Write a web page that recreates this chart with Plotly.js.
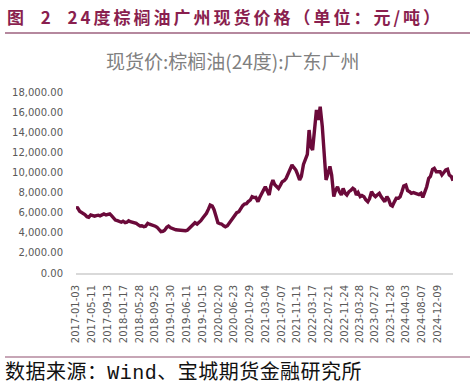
<!DOCTYPE html>
<html>
<head>
<meta charset="utf-8">
<script src="https://cdn.plot.ly/plotly-3.0.1.min.js"></script>
<style>
html,body{margin:0;padding:0;background:#fff;}
#chart{width:475px;height:388px;}
</style>
</head>
<body>
<div id="chart"></div>
<script>
// ---- data ----
const dates = [
"2017-01-03","2017-01-16","2017-02-01","2017-02-15","2017-03-01","2017-03-15","2017-04-01","2017-04-15","2017-05-01","2017-05-15","2017-06-01","2017-06-15","2017-07-01","2017-07-15","2017-08-01","2017-08-15","2017-09-01","2017-09-15","2017-10-01","2017-10-15","2017-11-01","2017-11-15","2017-12-01","2017-12-15",
"2018-01-01","2018-01-15","2018-02-01","2018-02-15","2018-03-01","2018-03-15","2018-04-01","2018-04-15","2018-05-01","2018-05-15","2018-06-01","2018-06-15","2018-07-01","2018-07-15","2018-08-01","2018-08-15","2018-09-01","2018-09-15","2018-10-01","2018-10-15","2018-11-01","2018-11-15","2018-12-01","2018-12-15",
"2019-01-01","2019-01-15","2019-02-01","2019-02-15","2019-03-01","2019-03-15","2019-04-01","2019-04-15","2019-05-01","2019-05-15","2019-06-01","2019-06-15","2019-07-01","2019-07-15","2019-08-01","2019-08-15","2019-09-01","2019-09-15","2019-10-01","2019-10-15","2019-11-01","2019-11-15","2019-12-01","2019-12-15",
"2020-01-01","2020-01-15","2020-02-01","2020-02-15","2020-03-01","2020-03-15","2020-04-01","2020-04-15","2020-05-01","2020-05-15","2020-06-01","2020-06-15","2020-07-01","2020-07-15","2020-08-01","2020-08-15","2020-09-01","2020-09-15","2020-10-01","2020-10-15","2020-11-01","2020-11-15","2020-12-01","2020-12-15",
"2021-01-01","2021-01-15","2021-02-01","2021-02-15","2021-03-01","2021-03-15","2021-04-01","2021-04-15","2021-05-01","2021-05-15","2021-06-01","2021-06-15","2021-07-01","2021-07-15","2021-08-01","2021-08-15","2021-09-01","2021-09-15","2021-10-01","2021-10-15","2021-11-01","2021-11-15","2021-12-01","2021-12-15",
"2022-01-01","2022-01-15","2022-02-01","2022-02-15","2022-03-01","2022-03-15","2022-04-01","2022-04-15","2022-05-01","2022-05-15","2022-06-01","2022-06-15","2022-07-01","2022-07-15","2022-08-01","2022-08-15","2022-09-01","2022-09-15","2022-10-01","2022-10-15","2022-11-01","2022-11-15","2022-12-01","2022-12-15",
"2023-01-01","2023-01-15","2023-02-01","2023-02-15","2023-03-01","2023-03-15","2023-04-01","2023-04-15","2023-05-01","2023-05-15","2023-06-01","2023-06-15","2023-07-01","2023-07-15","2023-08-01","2023-08-15","2023-09-01","2023-09-15","2023-10-01","2023-10-15","2023-11-01","2023-11-15","2023-12-01","2023-12-15",
"2024-01-01","2024-01-15","2024-02-01","2024-02-15","2024-03-01","2024-03-15","2024-04-01","2024-04-15","2024-05-01","2024-05-15","2024-06-01","2024-06-15","2024-07-01","2024-07-15","2024-08-01","2024-08-15","2024-09-01","2024-09-15","2024-10-01","2024-10-15","2024-11-01","2024-11-15","2024-12-01","2024-12-15",
"2025-01-01","2025-01-15","2025-02-01","2025-02-15","2025-03-01","2025-03-15","2025-04-01","2025-04-14"
];
const prices = [
6500,6480,6150,6050,5900,5820,5600,5540,5780,5700,5650,5700,5750,5680,5780,5870,5770,5820,5880,5700,5450,5270,5200,5100,
5050,5150,5000,5050,5200,5100,5050,5000,4950,4800,4680,4700,4600,4650,4940,4850,4800,4770,4650,4550,4250,4110,4150,4250,
4550,4670,4500,4420,4350,4300,4280,4250,4300,4230,4210,4250,4450,4600,4900,5000,4870,5000,5200,5440,5700,5940,6350,6750,
6650,6300,5600,5000,4900,4870,4700,4600,4700,4940,5200,5500,5700,6000,6100,6430,6700,6860,6900,7100,7260,7590,7500,7530,
7090,7500,8000,8250,8580,8200,7760,8700,9250,8800,8580,8400,8750,9080,9200,9420,9900,10400,10740,10500,10240,9800,9250,9600,
10800,11240,11800,14220,12560,12230,14500,16210,15220,16540,14550,12000,9250,9800,10600,9750,7600,8200,8580,8100,7760,8400,7930,7760,
8090,8200,8420,8300,7760,8000,7590,7700,7590,7300,7090,7400,8090,7800,7590,7760,7930,7600,7260,7090,7590,7300,6760,6660,
7100,7430,7430,7590,8100,8650,8750,8200,8090,7930,8000,7930,7930,7800,7930,7530,8090,8580,9420,9600,10310,10410,10070,10070,
10070,9750,10000,10240,10310,9750,9580,9180
];
const tickDates = ["2017-01-03","2017-05-11","2017-09-13","2018-01-17","2018-05-28","2018-09-25","2019-01-30","2019-06-11","2019-10-15","2020-02-20","2020-06-23","2020-10-29","2021-03-04","2021-07-07","2021-11-11","2022-03-17","2022-07-21","2022-11-24","2023-03-28","2023-07-27","2023-11-28","2024-04-03","2024-08-07","2024-12-09"];
const yTicks = [0,2000,4000,6000,8000,10000,12000,14000,16000,18000];
const seriesName = "现货价:棕榈油(24度):广东广州";
const headerText = "图&nbsp; 2&nbsp; 24度棕榈油广州现货价格（单位：元/吨）";
const footerText = "数据来源：Wind、宝城期货金融研究所";

// ---- layout helpers (pixel -> paper) ----
const PL = 76, PR = 453, PT = 92, PB = 273;
const px = x => (x - PL) / (PR - PL);
const py = y => (PB - y) / (PB - PT);

const trace = {
  x: dates, y: prices, type: "scatter", mode: "lines",
  line: {color: "#6b0a3a", width: 3.4},
  name: seriesName, hoverinfo: "skip"
};

const layout = {
  width: 475, height: 388,
  margin: {l: PL, r: 475 - PR, t: PT, b: 388 - PB, pad: 0},
  paper_bgcolor: "#ffffff", plot_bgcolor: "#ffffff",
  showlegend: false,
  title: {
    text: seriesName,
    x: 0.49, xref: "container", xanchor: "center",
    y: 1 - 62 / 388, yref: "container", yanchor: "middle",
    font: {family: "Noto Sans CJK SC", size: 19, color: "#808080"}
  },
  xaxis: {
    type: "date",
    range: [dates[0], dates[dates.length - 1]],
    tickmode: "array", tickvals: tickDates, ticktext: tickDates,
    tickangle: -90,
    tickfont: {family: "DejaVu Sans", size: 10, color: "#595959"},
    ticks: "", ticklabelstandoff: 6,
    showgrid: false, zeroline: false,
    showline: true, linecolor: "#d9d9d9", linewidth: 2
  },
  yaxis: {
    range: [0, 18000],
    tickmode: "array", tickvals: yTicks,
    tickformat: ",.2f",
    tickfont: {family: "DejaVu Sans", size: 10, color: "#595959"},
    ticks: "", ticklabelstandoff: 12,
    showgrid: false, zeroline: false, showline: false
  },
  shapes: [
    {type: "line", xref: "paper", yref: "paper", x0: px(5), x1: px(470), y0: py(33), y1: py(33),
     line: {color: "#b5889e", width: 2}},
    {type: "line", xref: "paper", yref: "paper", x0: px(5), x1: px(470), y0: py(357), y1: py(357),
     line: {color: "#b5889e", width: 1.5}}
  ],
  annotations: [
    {text: "<b>" + headerText + "</b>", xref: "paper", yref: "paper",
     x: px(6), y: py(16), xanchor: "left", yanchor: "middle", showarrow: false,
     font: {family: "Noto Sans CJK SC", size: 17, color: "#8a1f4f"}},
    {text: footerText, xref: "paper", yref: "paper",
     x: px(4), y: py(373), xanchor: "left", yanchor: "middle", showarrow: false,
     font: {family: "Liberation Mono, Noto Sans CJK SC", size: 20, color: "#111111"}}
  ]
};

function fitText(t, left, targetW) {
  const r0 = t.getBoundingClientRect();
  const n = (t.textContent || "").length;
  const ls = Math.max(0, (targetW - r0.width) / n);
  t.style.letterSpacing = ls + "px";
  const r1 = t.getBoundingClientRect();
  const dx = left - r1.left;
  const tr = t.getAttribute("transform") || "";
  t.setAttribute("transform", tr + " translate(" + dx + ",0)");
}

Plotly.newPlot("chart", [trace], layout, {staticPlot: true, displayModeBar: false}).then(gd => {
  const texts = gd.querySelectorAll(".annotation-text");
  if (texts[0]) fitText(texts[0], 7, 436);
  if (texts[1]) fitText(texts[1], 5, 357);
});
</script>
</body>
</html>
